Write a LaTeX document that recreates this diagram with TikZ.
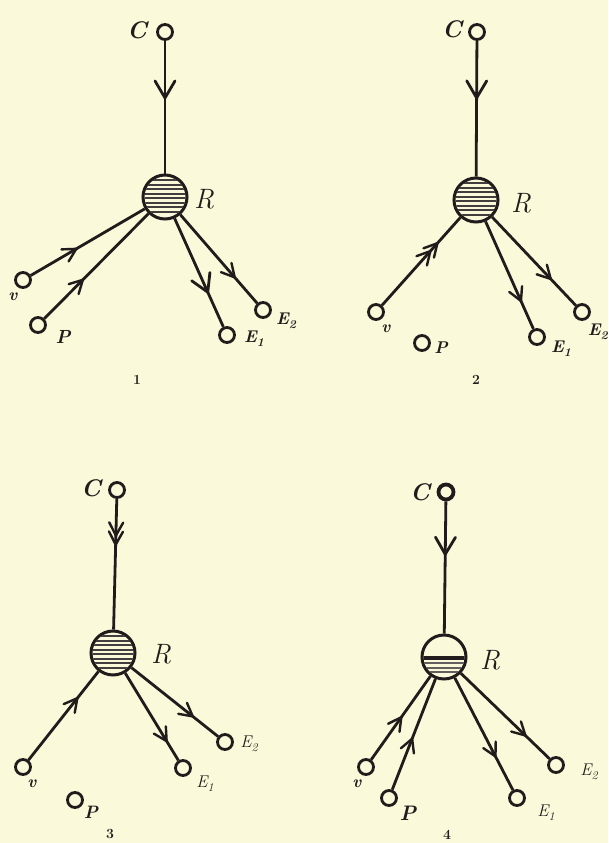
\documentclass[tikz,border=0pt]{standalone}
\usepackage{fontspec}
\usetikzlibrary{decorations.markings}
\definecolor{bg}{RGB}{250,249,218}
\definecolor{ink}{RGB}{34,27,27}
\newcommand\vhead{\draw[ink,line width=2.4pt,line cap=round] (-13,7)--(0,0)--(-13,-7);}
\newcommand\vheadbig{\draw[ink,line width=2.8pt,line cap=round] (-17,10)--(0,0)--(-17,-10);}
\newcommand\hatchR[1]{%
  \begin{scope}
    \clip (#1.center) circle (20.5);
    \foreach \d in {-17,-12.5,...,18}
      \draw[ink!85,line width=2pt] ([shift={(-25,\d)}]#1.center) -- ++(50,0);
  \end{scope}}
\newcommand\halfhatchR[1]{%
  \begin{scope}
    \clip (#1.center) circle (20.5);
    \draw[ink,line width=3.2pt] ([shift={(-25,1)}]#1.center) -- ++(50,0);
    \foreach \d in {6,10.5,15}
      \draw[ink!70,line width=2pt] ([shift={(-25,\d)}]#1.center) -- ++(50,0);
  \end{scope}}
\newcommand\lbf[1]{\fontsize{#1}{#1}\selectfont\bfseries\itshape}
\newcommand\lit[1]{\fontsize{#1}{#1}\selectfont\itshape}
\newcommand\Ebf[1]{{\lbf{17}E}\raisebox{-4pt}{\lbf{12}#1}}
\newcommand\Eit[1]{{\lit{17}E}\raisebox{-4pt}{\lit{12}#1}}
\newcommand\fignum[1]{\fontsize{14}{14}\selectfont\bfseries #1}
\tikzset{
  x=1pt,y=-1pt,
  term/.style={circle,draw=ink,line width=2.8pt,fill=bg,inner sep=0pt,minimum size=15pt},
  termbold/.style={term,line width=3.8pt},
  react/.style={circle,draw=ink,line width=3pt,inner sep=0pt,minimum size=44pt},
  conn/.style={draw=ink,line width=2.8pt},
  txt/.style={inner sep=0pt,text=ink},
  fwd/.style={conn,postaction={decorate},decoration={markings,mark=at position #1 with {\vhead}}},
  fwdbig/.style={conn,postaction={decorate},decoration={markings,mark=at position #1 with {\vheadbig}}},
  fwdtwo/.style 2 args={conn,postaction={decorate},decoration={markings,mark=at position #1 with {\vhead},mark=at position #2 with {\vhead}}},
}
\begin{document}
\begin{tikzpicture}
\fill[bg] (0,0) rectangle (608,843);
\useasboundingbox (0,0) rectangle (608,843);

% ---------------- Figure 1 ----------------
\node[react] (aR) at (165,197) {};
\hatchR{aR}
\node[term] (aC) at (165,32) {};
\node[term] (aV) at (23,280) {};
\node[term] (aP) at (38,325) {};
\node[term] (aE1) at (227,335) {};
\node[term] (aE2) at (263,310) {};
\draw[fwdbig=0.43] (aC) -- (aR);
\draw[fwd=0.40] (aV) -- (aR);
\draw[fwd=0.37] (aP) -- (aR);
\draw[fwdbig=0.68] (aR) -- (aE1);
\draw[fwd=0.71] (aR) -- (aE2);
\node[txt] (aCl) at (137,30) {\lbf{24}C};
\node[txt] (aRl) at (204,199) {\lit{28}R};
\node[txt] (aVl) at (13,297) {\lbf{17}v};
\node[txt] (aPl) at (63,337) {\lbf{19}P};
\node[txt] (aE1l) at (254,339) {\Ebf{1}};
\node[txt] (aE2l) at (286,321) {\Ebf{2}};
\node[txt] (an) at (137,380) {\fignum{1}};

% ---------------- Figure 2 ----------------
\node[react] (bR) at (476,200) {};
\hatchR{bR}
\node[term] (bC) at (477,32) {};
\node[term] (bV) at (376,312) {};
\node[term] (bP) at (422,343) {};
\node[term] (bE1) at (537,337) {};
\node[term] (bE2) at (582,312) {};
\draw[fwdbig=0.42] (bC) -- (bR);
\draw[fwdtwo={0.62}{0.71}] (bV) -- (bR);
\draw[fwd=0.74] (bR) -- (bE1);
\draw[fwd=0.70] (bR) -- (bE2);
\node[txt] (bCl) at (452,29) {\lbf{24}C};
\node[txt] (bRl) at (521,203) {\lit{28}R};
\node[txt] (bVl) at (386,329) {\lbf{17}v};
\node[txt] (bPl) at (441,348) {\lbf{17}P};
\node[txt] (bE1l) at (561,349) {\Ebf{1}};
\node[txt,anchor=east] (bE2l) at (608,332) {\Ebf{2}};
\node[txt] (bn) at (476,380) {\fignum{2}};

% ---------------- Figure 3 ----------------
\node[react] (cR) at (113,653) {};
\hatchR{cR}
\node[term] (cC) at (117,490) {};
\node[term] (cV) at (23,767) {};
\node[term] (cP) at (75,800) {};
\node[term] (cE1) at (183,768) {};
\node[term] (cE2) at (225,742) {};
\draw[fwdtwo={0.28}{0.35}] (cC) -- (cR);
\draw[fwd=0.70] (cV) -- (cR);
\draw[fwd=0.78] (cR) -- (cE1);
\draw[fwd=0.71] (cR) -- (cE2);
\node[txt] (cCl) at (91,488) {\lbf{24}C};
\node[txt] (cRl) at (161,654) {\lit{28}R};
\node[txt] (cVl) at (32,784) {\lbf{17}v};
\node[txt] (cPl) at (91,812) {\lbf{18}P};
\node[txt] (cE1l) at (205,784) {\Eit{1}};
\node[txt] (cE2l) at (249,744) {\Eit{2}};
\node[txt] (cn) at (110,834) {\fignum{3}};

% ---------------- Figure 4 ----------------
\node[react,fill=bg] (dR) at (444,657) {};
\halfhatchR{dR}
\node[termbold] (dC) at (446,492) {};
\node[term] (dV) at (366,767) {};
\node[term] (dP) at (389,798) {};
\node[term] (dE1) at (517,798) {};
\node[term] (dE2) at (556,765) {};
\draw[fwdbig=0.40] (dC) -- (dR);
\draw[fwd=0.51] (dV) -- (dR);
\draw[fwd=0.46] (dP) -- (dR);
\draw[fwd=0.70] (dR) -- (dE1);
\draw[fwd=0.73] (dR) -- (dE2);
\node[txt] (dCl) at (420,492) {\lbf{24}C};
\node[txt] (dRl) at (490,660) {\lit{28}R};
\node[txt] (dVl) at (357,784) {\lbf{17}v};
\node[txt] (dPl) at (408,813) {\lbf{21}P};
\node[txt] (dE1l) at (546,813) {\Eit{1}};
\node[txt] (dE2l) at (589,772) {\Eit{2}};
\node[txt] (dn) at (447,835) {\fignum{4}};
\end{tikzpicture}
\end{document}
